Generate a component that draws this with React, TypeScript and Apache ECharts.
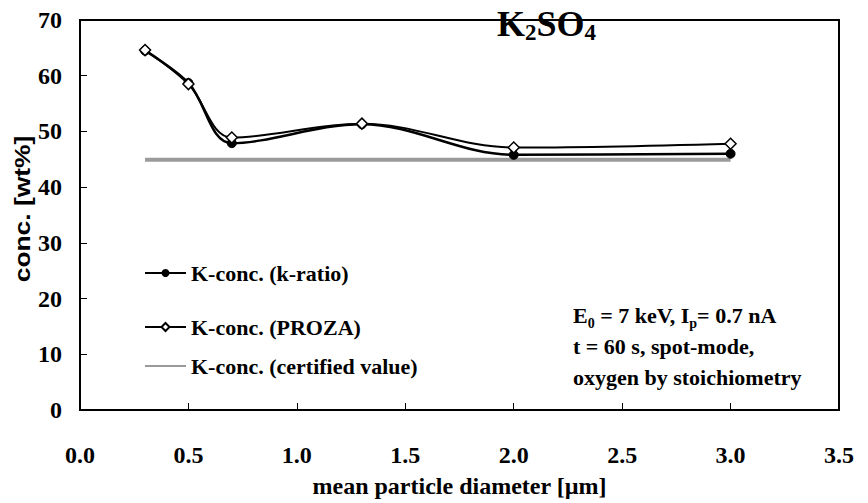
import React, { useEffect, useRef } from "react";
import * as echarts from "echarts";

// Mean particle diameter [µm] of the measured samples
const diameters = [0.3, 0.5, 0.7, 1.3, 2.0, 3.0];
// K concentration [wt%] from k-ratio
const kRatio = [64.5, 58.7, 47.9, 51.3, 45.8, 46.0];
// K concentration [wt%] after PROZA correction
const proza = [64.6, 58.5, 48.9, 51.4, 47.1, 47.8];
// Certified K concentration [wt%]
const certifiedX = [0.3, 3.0];
const certifiedValue = 44.9;

const xTicks = [0, 0.5, 1.0, 1.5, 2.0, 2.5, 3.0, 3.5];
const yTicks = [0, 10, 20, 30, 40, 50, 60, 70];

const serif = "'Liberation Serif', 'Times New Roman', serif";
const sans = "'Liberation Sans', Arial, sans-serif";

export default function App() {
  const ref = useRef<HTMLDivElement>(null);

  useEffect(() => {
    if (!ref.current) return;
    const chart = echarts.init(ref.current, undefined, { renderer: "svg" });

    const legendText = { fontFamily: serif, fontWeight: "bold" as const, fontSize: 22, color: "#000" };
    const mkLegend = (item: any, top: number) => ({
      data: [item],
      left: 144,
      top,
      itemWidth: 41,
      itemHeight: 10,
      itemGap: 0,
      padding: 0,
      textStyle: legendText,
    });

    chart.setOption({
      animation: false,
      backgroundColor: "#fff",
      title: {
        text: "{a|K}{b|2}{a|SO}{b|4}",
        left: 497,
        top: 4,
        padding: 0,
        textStyle: {
          rich: {
            a: { fontFamily: serif, fontWeight: "bold", fontSize: 36, color: "#000", lineHeight: 40, verticalAlign: "middle" },
            b: { fontFamily: serif, fontWeight: "bold", fontSize: 23, color: "#000", lineHeight: 23, verticalAlign: "bottom" },
          },
        },
      },
      legend: [
        mkLegend("K-conc. (k-ratio)", 262),
        mkLegend("K-conc. (PROZA)", 316),
        mkLegend({ name: "K-conc. (certified value)", itemStyle: { opacity: 0 } }, 355),
      ],
      grid: {
        left: 80,
        right: 29,
        top: 20,
        bottom: 93,
        outerBoundsMode: "none",
        show: true,
        borderColor: "#000",
        borderWidth: 2,
        backgroundColor: "transparent",
      },
      xAxis: {
        type: "value",
        min: xTicks[0],
        max: xTicks[xTicks.length - 1],
        interval: 0.5,
        name: "mean particle diameter [µm]",
        nameLocation: "middle",
        nameGap: 64,
        nameTextStyle: { fontFamily: serif, fontWeight: "bold", fontSize: 24, color: "#000" },
        axisLine: { show: true, lineStyle: { color: "#000", width: 2 } },
        axisTick: { show: true, inside: true, length: 7, lineStyle: { color: "#000", width: 1 } },
        axisLabel: {
          margin: 33,
          fontFamily: serif,
          fontWeight: "bold",
          fontSize: 24,
          color: "#000",
          formatter: (v: number) => v.toFixed(1),
        },
        splitLine: { show: false },
      },
      yAxis: {
        type: "value",
        min: yTicks[0],
        max: yTicks[yTicks.length - 1],
        interval: 10,
        axisLine: { show: true, lineStyle: { color: "#000", width: 2 } },
        axisTick: { show: true, inside: true, length: 7, lineStyle: { color: "#000", width: 1 } },
        axisLabel: { margin: 18, fontFamily: serif, fontWeight: "bold", fontSize: 24, color: "#000" },
        splitLine: { show: false },
      },
      graphic: [
        {
          // y-axis title, stretched along its reading direction
          type: "text",
          x: 22,
          y: 209,
          rotation: Math.PI / 2,
          scaleX: 1.2,
          style: {
            text: "conc. [wt%]",
            fontFamily: sans,
            fontWeight: "bold",
            fontSize: 22,
            fill: "#000",
            align: "center",
            verticalAlign: "middle",
          },
        },
        {
          // measurement conditions
          type: "text",
          left: 573,
          top: 304,
          style: {
            text:
              "{t|E}{s|0}{t| = 7 keV, I}{s|p}{t|= 0.7 nA}\n{t|t = 60 s, spot-mode,}\n{t|oxygen by stoichiometry}",
            rich: {
              t: { fontFamily: serif, fontWeight: "bold", fontSize: 22, fill: "#000", lineHeight: 31, verticalAlign: "middle" },
              s: { fontFamily: serif, fontWeight: "bold", fontSize: 14, fill: "#000", lineHeight: 16, verticalAlign: "bottom" },
            },
          },
        },
      ],
      series: [
        {
          name: "K-conc. (certified value)",
          type: "line",
          data: certifiedX.map((x) => [x, certifiedValue]),
          symbol: "none",
          z: 1,
          lineStyle: { color: "#9a9a9a", width: 4 },
          itemStyle: { color: "#9a9a9a" },
        },
        {
          name: "K-conc. (k-ratio)",
          type: "line",
          data: diameters.map((x, i) => [x, kRatio[i]]),
          smooth: 0.35,
          symbol: "circle",
          symbolSize: 9,
          z: 3,
          lineStyle: { color: "#000", width: 2.5 },
          itemStyle: { color: "#000", borderColor: "#000" },
        },
        {
          name: "K-conc. (PROZA)",
          type: "line",
          data: diameters.map((x, i) => [x, proza[i]]),
          smooth: 0.35,
          symbol: "diamond",
          symbolSize: 11,
          z: 4,
          lineStyle: { color: "#000", width: 2 },
          itemStyle: { color: "#fff", borderColor: "#000", borderWidth: 1.5 },
        },
      ],
    });

    return () => chart.dispose();
  }, []);

  return <div ref={ref} style={{ width: 868, height: 503, position: "absolute", left: 0, top: 0 }} />;
}
